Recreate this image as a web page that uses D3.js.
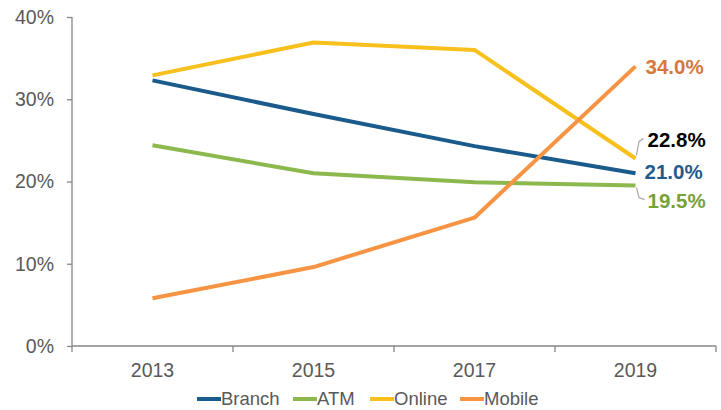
<!DOCTYPE html>
<html>
<head>
<meta charset="utf-8">
<script src="https://cdn.jsdelivr.net/npm/d3@7"></script>
<style>
  body { margin: 0; background: #fff; }
  svg { display: block; font-family: "Liberation Sans", Arial, sans-serif; }
</style>
</head>
<body>
<svg id="chart" width="721" height="410"></svg>
<script>
const years = ["2013", "2015", "2017", "2019"];
const seriesNames = ["Branch", "ATM", "Online", "Mobile"];
const branch = [32.3, 28.2, 24.3, 21.0];
const atm = [24.4, 21.0, 19.9, 19.5];
const online = [32.9, 36.9, 36.0, 22.8];
const mobile = [5.8, 9.6, 15.6, 34.0];
const yTicks = [0, 10, 20, 30, 40];
const lineColors = ["#1a5b8c", "#8cb84e", "#f8c01c", "#f79443"];
const labelColors = ["#1f5c8d", "#77a13b", "#000000", "#d5793a"];

const series = [branch, atm, online, mobile];
const plotLeft = 72, plotRight = 716, plotTop = 17, plotBottom = 346;

const svg = d3.select('#chart');

const x = d3.scaleBand().domain(years).range([plotLeft, plotRight]).paddingInner(0).paddingOuter(0);
const y = d3.scaleLinear().domain([0, 40]).range([plotBottom, plotTop]);
const cx = d => x(d) + x.bandwidth() / 2;

const axisColor = '#868686';
const tickText = '#595959';

// y axis
const yAxis = svg.append('g')
    .attr('transform', `translate(${plotLeft},0)`)
    .call(d3.axisLeft(y).tickValues(yTicks).tickSize(5).tickPadding(13).tickFormat(d => d + '%'));
yAxis.select('.domain').attr('stroke', axisColor).attr('stroke-width', 1.3).attr('d', `M0,${plotTop}V${plotBottom + 6}`);
yAxis.selectAll('.tick line').attr('stroke', axisColor).attr('stroke-width', 1.3);
yAxis.selectAll('.tick text').attr('fill', tickText).attr('font-size', 19.5).attr('font-family', '"Liberation Sans", Arial, sans-serif');

// x axis: labels centred in bands, ticks at band boundaries
const xAxis = svg.append('g')
    .attr('transform', `translate(0,${plotBottom})`)
    .call(d3.axisBottom(x).tickSize(0).tickPadding(17.5));
xAxis.select('.domain').attr('stroke', axisColor).attr('stroke-width', 1.3).attr('d', `M${plotLeft},0H${plotRight}`);
xAxis.selectAll('.tick text').attr('fill', tickText).attr('font-size', 19.5).attr('font-family', '"Liberation Sans", Arial, sans-serif');
svg.append('g').selectAll('line')
    .data(years)
    .join('line')
    .attr('x1', d => x(d) + x.bandwidth())
    .attr('x2', d => x(d) + x.bandwidth())
    .attr('y1', plotBottom)
    .attr('y2', plotBottom + 6)
    .attr('stroke', axisColor)
    .attr('stroke-width', 1.3);

// lines
const line = d3.line()
    .x((d, i) => cx(years[i]))
    .y(d => y(d));

svg.append('g').selectAll('path')
    .data(series)
    .join('path')
    .attr('d', line)
    .attr('fill', 'none')
    .attr('stroke', (d, i) => lineColors[i])
    .attr('stroke-width', 4)
    .attr('stroke-linejoin', 'round');

// end labels
const last = years[years.length - 1];
const lx = cx(last);
const labels = [
  { s: 3, dx: 10, y: y(mobile[3]) },
  { s: 2, dx: 12, y: y(online[3]) - 18.5 },
  { s: 0, dx: 9, y: y(branch[3]) - 1 },
  { s: 1, dx: 12, y: y(atm[3]) + 15 }
];
svg.append('g').selectAll('text')
    .data(labels)
    .join('text')
    .attr('x', d => lx + d.dx)
    .attr('y', d => d.y)
    .attr('dy', '0.35em')
    .attr('fill', d => labelColors[d.s])
    .attr('font-size', 20.5)
    .attr('font-weight', 'bold')
    .text(d => series[d.s][3].toFixed(1) + '%');

// leader lines
const leader = svg.append('g').attr('fill', 'none').attr('stroke', '#a6a6a6').attr('stroke-width', 1.2);
leader.append('path')
    .attr('d', `M${lx + 1},${y(online[3]) - 3}L${lx + 3.5},${y(online[3]) - 17}L${lx + 8},${y(online[3]) - 20}`);
leader.append('path')
    .attr('d', `M${lx + 1},${y(atm[3]) + 2}L${lx + 3.5},${y(atm[3]) + 12}L${lx + 9},${y(atm[3]) + 14}`);

// legend
const legendX = [197, 293, 370, 460];
const legendY = 399;
const lg = svg.append('g').selectAll('g')
    .data(seriesNames)
    .join('g')
    .attr('transform', (d, i) => `translate(${legendX[i]},${legendY})`);
lg.append('line')
    .attr('x1', 0).attr('x2', 24)
    .attr('stroke', (d, i) => lineColors[i])
    .attr('stroke-width', 4);
lg.append('text')
    .attr('x', 24)
    .attr('dy', '0.35em')
    .attr('fill', tickText)
    .attr('font-size', 18.5)
    .text(d => d);
</script>
</body>
</html>
